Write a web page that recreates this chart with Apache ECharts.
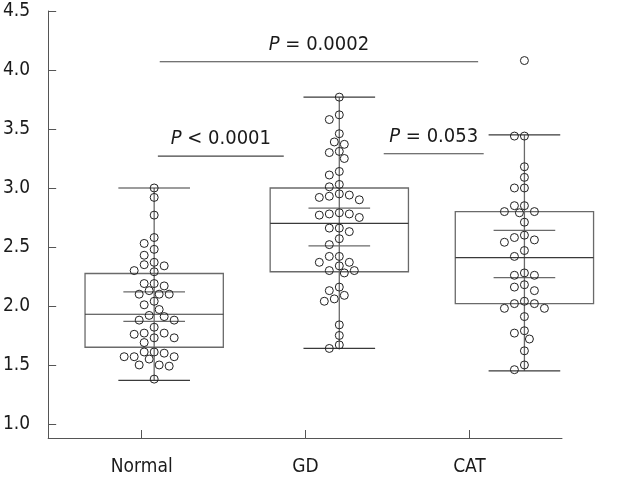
<!DOCTYPE html>
<html>
<head>
<meta charset="utf-8">
<script src="https://cdn.jsdelivr.net/npm/echarts@6/dist/echarts.min.js"></script>
<style>html,body{margin:0;padding:0;background:#fff}#c{width:630px;height:479px}</style>
</head>
<body>
<div id="c"></div>
<script>
// ---- data ----
const categories = ['Normal', 'GD', 'CAT'];
const yTicks = [1.0, 1.5, 2.0, 2.5, 3.0, 3.5, 4.0, 4.5];

const normalValues = [3.00, 2.92, 2.77, 2.58, 2.53, 2.48, 2.43, 2.37, 2.35, 2.34, 2.30, 2.29,
  2.19, 2.19, 2.17, 2.13, 2.10, 2.10, 2.10, 2.04, 2.01, 1.97, 1.92, 1.91, 1.88, 1.88, 1.82,
  1.77, 1.77, 1.76, 1.73, 1.73, 1.69, 1.61, 1.61, 1.60, 1.57, 1.57, 1.57, 1.55, 1.50, 1.50, 1.49, 1.38];
const gdValues = [3.77, 3.62, 3.58, 3.46, 3.39, 3.37, 3.31, 3.30, 3.25, 3.14, 3.11, 3.03, 3.01,
  2.95, 2.94, 2.93, 2.92, 2.90, 2.79, 2.78, 2.78, 2.77, 2.75, 2.66, 2.66, 2.63, 2.57, 2.52,
  2.42, 2.42, 2.37, 2.37, 2.34, 2.30, 2.30, 2.28, 2.16, 2.13, 2.09, 2.06, 2.04, 1.84, 1.75, 1.67, 1.64];
const catValues = [4.08, 3.44, 3.44, 3.18, 3.09, 3.00, 3.00, 2.85, 2.85, 2.80, 2.80, 2.79, 2.71,
  2.60, 2.58, 2.56, 2.54, 2.47, 2.42, 2.28, 2.26, 2.26, 2.18, 2.16, 2.13, 2.04, 2.02, 2.02,
  1.98, 1.98, 1.91, 1.79, 1.77, 1.72, 1.62, 1.50, 1.46];

// box statistics: [whiskerLow, q1, median, q3, whiskerHigh, meanCiLow, meanCiHigh]
const normalBox = [1.37, 1.65, 1.93, 2.275, 3.00, 1.87, 2.12];
const gdBox     = [1.64, 2.29, 2.70, 3.00, 3.77, 2.51, 2.83];
const catBox    = [1.45, 2.02, 2.41, 2.80, 3.45, 2.24, 2.64];

// significance annotations
const pPrefix = ['= 0.0002', '< 0.0001', '= 0.053'];
const pFrom = [1.03, 1.02, 2.24];
const pTo   = [2.75, 1.70, 2.78];
const pY    = [4.07, 3.27, 3.29];

// ---- chart ----
const groups = [normalValues, gdValues, catValues];
const boxes = [normalBox, gdBox, catBox];
const FONT = '"DejaVu Sans Condensed", "DejaVu Sans", sans-serif';

const boxData = boxes.map((b, i) => [i + 1].concat(b));
const dotData = [];
groups.forEach((g, gi) => g.forEach((v, vi) => dotData.push([gi + 1, v, vi])));
const annData = pPrefix.map((t, i) => [pFrom[i], pTo[i], pY[i], i]);

function swarm(ys, d, step) {
  const order = ys.map((y, i) => i).sort((a, b) => ys[a] - ys[b]);
  const placed = [];
  const off = new Array(ys.length).fill(0);
  for (const i of order) {
    let found = false;
    for (let k = 0; k < 60 && !found; k++) {
      const cands = k === 0 ? [0] : [-k * step, k * step];
      for (const c of cands) {
        let ok = true;
        for (const p of placed) {
          if ((p.x - c) * (p.x - c) + (p.y - ys[i]) * (p.y - ys[i]) < d * d) { ok = false; break; }
        }
        if (ok) { off[i] = c; placed.push({x: c, y: ys[i]}); found = true; break; }
      }
    }
  }
  return off;
}

const chart = echarts.init(document.getElementById('c'), null, {renderer: 'canvas'});
chart.setOption({
  animation: false,
  backgroundColor: '#fff',
  grid: {left: 46, right: 68, top: 11, bottom: 41, containLabel: false},
  xAxis: [{
    type: 'value', min: 0.429, max: 3.565, position: 'bottom',
    splitLine: {show: false},
    axisLine: {show: true, onZero: false, lineStyle: {color: '#555', width: 1}},
    axisTick: {show: true, inside: true, length: 8, customValues: [1, 2, 3], lineStyle: {color: '#555'}},
    axisLabel: {customValues: [1, 2, 3], formatter: v => categories[Math.round(v) - 1] || '',
      color: '#1a1a1a', fontFamily: FONT, fontSize: 19, margin: 20}
  }, {
    type: 'value', min: 0.4274, max: 3.203, show: false
  }],
  yAxis: {
    type: 'value', min: 0.881, max: 4.5,
    splitLine: {show: false},
    axisLine: {show: true, onZero: false, lineStyle: {color: '#555', width: 1}},
    axisTick: {show: true, inside: true, length: 8, customValues: yTicks, lineStyle: {color: '#555'}},
    axisLabel: {customValues: yTicks, formatter: v => v.toFixed(1),
      color: '#1a1a1a', fontFamily: FONT, fontSize: 19, margin: 18}
  },
  series: [{
    type: 'custom', xAxisIndex: 1, yAxisIndex: 0, data: boxData, z: 2,
    renderItem: function (params, api) {
      const x = api.value(0);
      const lo = api.coord([x, api.value(1)]);
      const q1 = api.coord([x, api.value(2)]);
      const md = api.coord([x, api.value(3)]);
      const q3 = api.coord([x, api.value(4)]);
      const hi = api.coord([x, api.value(5)]);
      const cl = api.coord([x, api.value(6)]);
      const ch = api.coord([x, api.value(7)]);
      const cx = lo[0];
      const bw = api.size([0.747, 0])[0] / 2;
      const cw = api.size([0.387, 0])[0] / 2;
      const iw = api.size([0.333, 0])[0] / 2;
      const gray = {stroke: '#6a6a6a', lineWidth: 1.3, fill: null};
      const dark = {stroke: '#3a3a3a', lineWidth: 1.2, fill: null};
      return {type: 'group', children: [
        {type: 'line', shape: {x1: cx, y1: hi[1], x2: cx, y2: lo[1]}, style: gray},
        {type: 'rect', shape: {x: cx - bw, y: q3[1], width: 2 * bw, height: q1[1] - q3[1]}, style: gray},
        {type: 'line', shape: {x1: cx - bw, y1: md[1], x2: cx + bw, y2: md[1]}, style: dark},
        {type: 'line', shape: {x1: cx - cw, y1: hi[1], x2: cx + cw, y2: hi[1]}, style: dark},
        {type: 'line', shape: {x1: cx - cw, y1: lo[1], x2: cx + cw, y2: lo[1]}, style: dark},
        {type: 'line', shape: {x1: cx - iw, y1: ch[1], x2: cx + iw, y2: ch[1]}, style: gray},
        {type: 'line', shape: {x1: cx - iw, y1: cl[1], x2: cx + iw, y2: cl[1]}, style: gray}
      ]};
    }
  }, {
    type: 'custom', xAxisIndex: 1, yAxisIndex: 0, data: dotData, z: 3,
    renderItem: function (params, api) {
      const g = api.value(0);
      const vi = api.value(2);
      const vals = groups[g - 1];
      const ys = vals.map(v => api.coord([g, v])[1]);
      const off = swarm(ys, 8.4, 5);
      const p = api.coord([g, vals[vi]]);
      return {type: 'circle', shape: {cx: p[0] + off[vi], cy: p[1], r: 4},
        style: {stroke: '#222', lineWidth: 1, fill: null}};
    }
  }, {
    type: 'custom', xAxisIndex: 1, yAxisIndex: 0, data: annData, z: 4,
    renderItem: function (params, api) {
      const a = api.coord([api.value(0), api.value(2)]);
      const b = api.coord([api.value(1), api.value(2)]);
      const i = api.value(3);
      return {type: 'group', children: [
        {type: 'line', shape: {x1: a[0], y1: a[1], x2: b[0], y2: b[1]}, style: {stroke: '#444', lineWidth: 1.2}},
        {type: 'text', x: (a[0] + b[0]) / 2, y: a[1] - 7,
          style: {text: '{i|P} ' + pPrefix[i], align: 'center', verticalAlign: 'bottom',
            fill: '#1a1a1a', fontFamily: FONT, fontSize: 20,
            rich: {i: {fontStyle: 'italic', fontFamily: FONT, fontSize: 20, fill: '#1a1a1a'}}}}
      ]};
    }
  }]
});
</script>
</body>
</html>
